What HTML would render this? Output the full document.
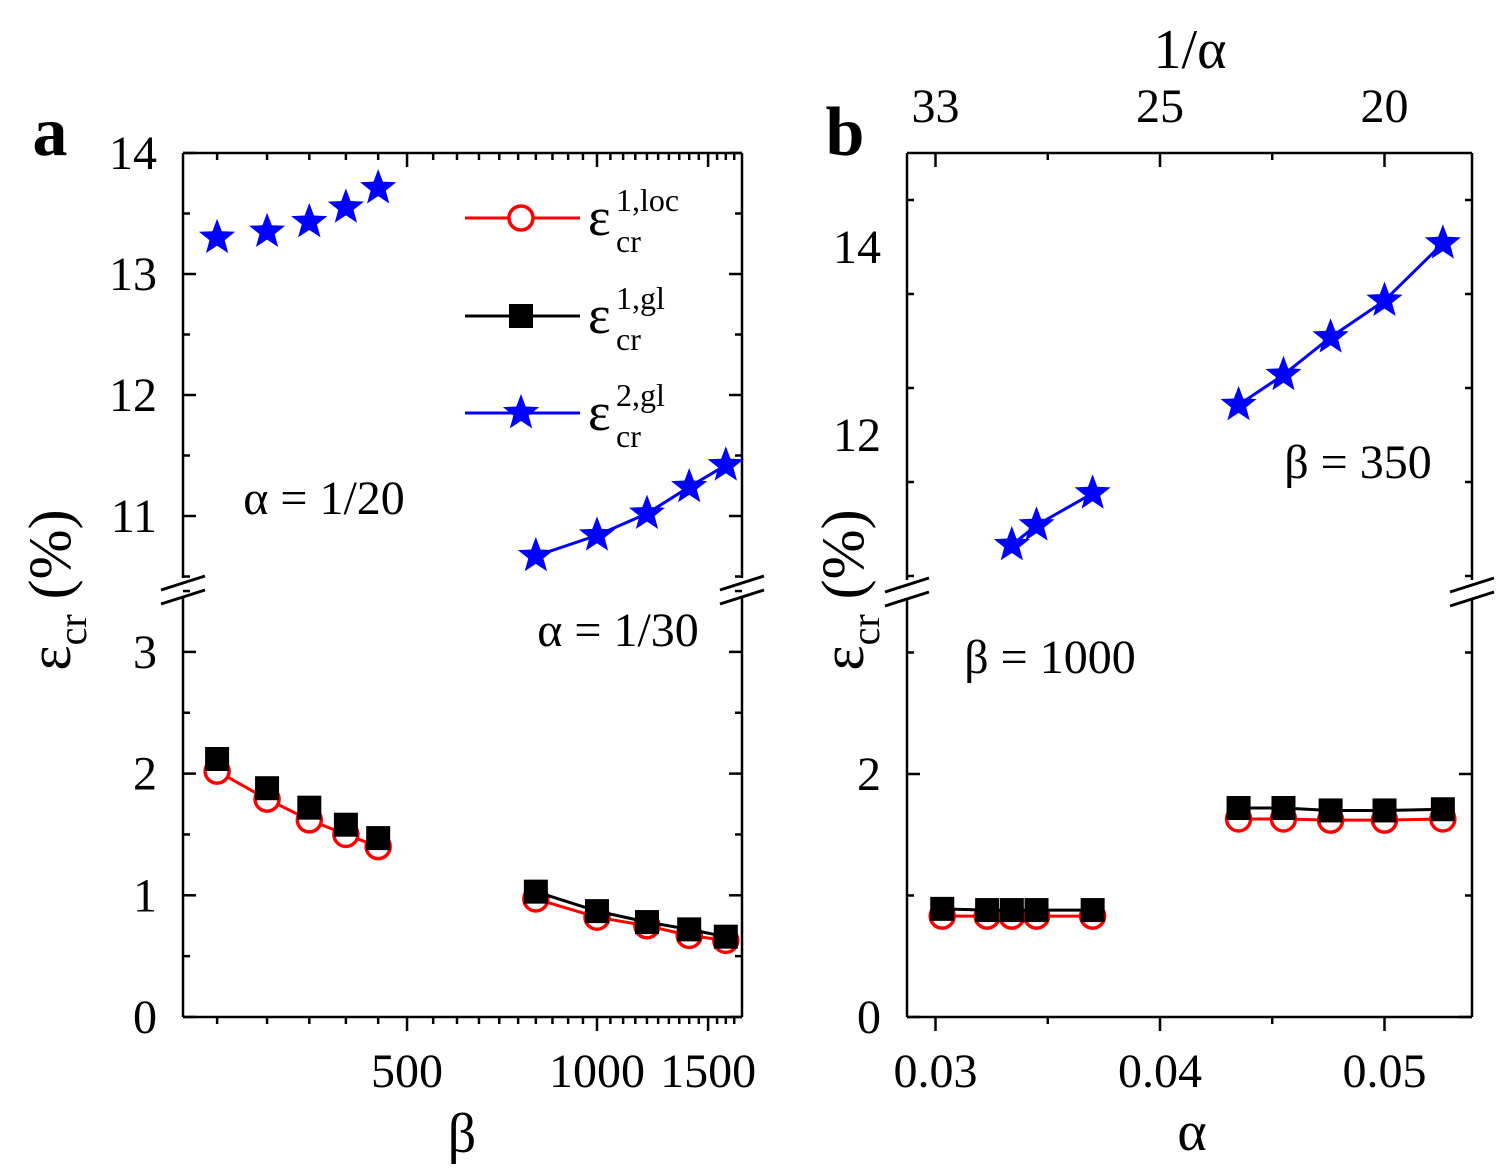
<!DOCTYPE html>
<html><head><meta charset="utf-8"><style>
html,body{margin:0;padding:0;background:#fff;}
svg{display:block;font-family:"Liberation Serif","Times New Roman",serif;}
svg text{font-family:"Liberation Serif","Times New Roman",serif;}
</style></head><body>
<svg id="chart" width="1507" height="1176" viewBox="0 0 1507 1176" xmlns="http://www.w3.org/2000/svg">
<g id="axes"></g><g id="marks"></g><g id="labels"></g>
</svg>
<script>
// ---- Panel a data ----
const betaA1 = [250, 300, 350, 400, 450];
const betaA2 = [800, 1000, 1200, 1400, 1600];
const locA1 = [2.02, 1.79, 1.62, 1.50, 1.40];
const locA2 = [0.97, 0.82, 0.75, 0.67, 0.63];
const glA1 = [2.12, 1.88, 1.72, 1.58, 1.47];
const glA2 = [1.03, 0.87, 0.78, 0.72, 0.66];
const gl2A1 = [13.30, 13.35, 13.43, 13.55, 13.71];
const gl2A2 = [10.67, 10.84, 11.02, 11.24, 11.42];
const xTicksA = [500, 1000, 1500];
const yTicksLowA = [0, 1, 2, 3];
const yTicksUpA = [11, 12, 13, 14];
// ---- Panel b data ----
const alphaB1 = [0.0303, 0.0323, 0.0334, 0.0345, 0.0370];
const alphaB2 = [0.0435, 0.0455, 0.0476, 0.0500, 0.0526];
const locB1 = [0.83, 0.83, 0.83, 0.83, 0.83];
const locB2 = [1.63, 1.63, 1.62, 1.62, 1.63];
const glB1 = [0.89, 0.88, 0.88, 0.88, 0.88];
const glB2 = [1.72, 1.72, 1.70, 1.70, 1.71];
const gl2B1 = [10.83, 11.04, 11.38];
const gl2B2 = [12.32, 12.64, 13.04, 13.43, 14.04];
const gl2B1alpha = [0.0334, 0.0345, 0.0370];
const xTicksB = [0.03, 0.04, 0.05];
const topTicksB = [33, 25, 20];
const yTicksLowB = [0, 2];
const yTicksUpB = [12, 14];

const NS = "http://www.w3.org/2000/svg";
const axes = document.getElementById('axes'), marks = document.getElementById('marks'), labels = document.getElementById('labels');
function el(tag, attrs, parent, name, inter) {
  const e = document.createElementNS(NS, tag);
  for (const k in attrs) e.setAttribute(k, attrs[k]);
  
  
  parent.appendChild(e); return e;
}
function txt(x, y, s, size, name, anchor, extra) {
  const t = el('text', Object.assign({x: x, y: y, 'font-size': size, 'text-anchor': anchor || 'middle', fill: '#000'}, extra || {}), labels, name, false);
  t.textContent = s; return t;
}
const A = {l: 183, r: 742, t: 153, b: 1017};
const xA = v => 597 + 631 * Math.log10(v / 1000);
const yAlow = v => 1017 - v * 121.7;
const yAup = v => 516 - (v - 11) * 121;
const B = {l: 907, r: 1472, t: 153, b: 1017};
const xB = v => 1160 + (v - 0.04) * 22450;
const yBlow = v => 1017 - v * 121.5;
const yBup = v => 435 - (v - 12) * 94;

function line(x1, y1, x2, y2, name, w, col) {
  return el('line', {x1, y1, x2, y2, stroke: col || '#000', 'stroke-width': w || 2.5}, axes, name, false);
}
function frame(P, breakY, pre) {
  line(P.l, P.t, P.r, P.t, pre + '-top-axis');
  line(P.l, P.b, P.r, P.b, pre + '-bottom-axis');
  line(P.l, P.t, P.l, breakY - 10, pre + '-left-axis-upper');
  line(P.l, breakY + 10, P.l, P.b, pre + '-left-axis-lower');
  line(P.r, P.t, P.r, breakY - 10, pre + '-right-axis-upper');
  line(P.r, breakY + 10, P.r, P.b, pre + '-right-axis-lower');
  [P.l, P.r].forEach((x, i) => {
    line(x - 22, breakY + 2, x + 22, breakY - 12, pre + '-break-mark', 3);
    line(x - 22, breakY + 16, x + 22, breakY + 2, pre + '-break-mark', 3);
  });
}
function yTicks(P, vals, f, step, lo, hi, pre) {
  for (let v = lo; v <= hi + 1e-9; v += step / 2) {
    const y = f(v); if (y < P.t - 1 || y > P.b + 1) continue;
    const major = Math.abs(v / step - Math.round(v / step)) < 1e-6;
    const len = major ? 13 : 7;
    line(P.l, y, P.l + len, y, pre + '-y-tick', 2.5);
    line(P.r, y, P.r - len, y, pre + '-y-tick', 2.5);
  }
  vals.forEach(v => txt(P.l - 26, f(v) + 16, String(v), 48, pre + '-y-tick-label', 'end'));
}
frame(A, 588, 'panel-a');
yTicks(A, yTicksLowA, yAlow, 1, 0, 3.5, 'panel-a-lower');
yTicks(A, yTicksUpA, yAup, 1, 10.5, 14, 'panel-a-upper');
for (let v = 250; v <= 1650; v += 50) {
  const x = xA(v); if (x < A.l || x > A.r) continue;
  const major = xTicksA.includes(v);
  line(x, A.b, x, A.b + (major ? 14 : 7), 'panel-a-x-tick', 2.5);
  line(x, A.t, x, A.t + (major ? 14 : 7), 'panel-a-top-tick', 2.5);
}
xTicksA.forEach(v => txt(xA(v), 1087, String(v), 48, 'panel-a-x-tick-label'));
frame(B, 590, 'panel-b');
yTicks(B, yTicksLowB, yBlow, 2, 0, 3.4, 'panel-b-lower');
yTicks(B, yTicksUpB, yBup, 2, 10.5, 15, 'panel-b-upper');
for (let v = 0.03; v <= 0.0526; v += 0.005) {
  const x = xB(v); const major = Math.abs(v * 100 - Math.round(v * 100)) < 1e-6;
  line(x, B.b, x, B.b + (major ? 14 : 7), 'panel-b-x-tick', 2.5);
  line(x, B.t, x, B.t + (major ? 14 : 7), 'panel-b-top-tick', 2.5);
}
xTicksB.forEach(v => txt(xB(v), 1087, String(v), 48, 'panel-b-x-tick-label'));
topTicksB.forEach((v, i) => txt(xB(xTicksB[i]), 122, String(v), 48, 'panel-b-top-tick-label'));

function path(xs, ys, fx, fy, col, name) {
  const d = xs.map((x, i) => (i ? 'L' : 'M') + fx(x) + ' ' + fy(ys[i])).join(' ');
  el('path', {d, fill: 'none', stroke: col, 'stroke-width': 3}, marks, name, false);
}
function starPts(cx, cy, R) {
  const r = R * 0.42, p = [];
  for (let i = 0; i < 10; i++) {
    const a = -Math.PI / 2 + i * Math.PI / 5, rr = i % 2 ? r : R;
    p.push((cx + rr * Math.cos(a)).toFixed(1) + ',' + (cy + rr * Math.sin(a)).toFixed(1));
  }
  return p.join(' ');
}
function series(xs, ys, fx, fy, kind, name, noLine) {
  const col = kind === 'circle' ? '#f00' : kind === 'square' ? '#000' : '#0000ff';
  if (!noLine) path(xs, ys, fx, fy, col, name + '-line');
  xs.forEach((x, i) => {
    const cx = fx(x), cy = fy(ys[i]);
    if (kind === 'circle') el('circle', {cx, cy, r: 12, fill: '#fff', stroke: '#f00', 'stroke-width': 3.5}, marks, name + '-point', false);
    else if (kind === 'square') el('rect', {x: cx - 12, y: cy - 12, width: 24, height: 24, fill: '#000'}, marks, name + '-point', false);
    else el('polygon', {points: starPts(cx, cy, 19), fill: '#0000ff'}, marks, name + '-point', false);
  });
}
series(betaA1, locA1, xA, yAlow, 'circle', 'a-eps1loc-g1');
series(betaA2, locA2, xA, yAlow, 'circle', 'a-eps1loc-g2');
series(betaA1, glA1, xA, yAlow, 'square', 'a-eps1gl-g1', true);
series(betaA2, glA2, xA, yAlow, 'square', 'a-eps1gl-g2');
series(betaA1, gl2A1, xA, yAup, 'star', 'a-eps2gl-g1', true);
series(betaA2, gl2A2, xA, yAup, 'star', 'a-eps2gl-g2');
series(alphaB1, locB1, xB, yBlow, 'circle', 'b-eps1loc-g1');
series(alphaB2, locB2, xB, yBlow, 'circle', 'b-eps1loc-g2');
series(alphaB1, glB1, xB, yBlow, 'square', 'b-eps1gl-g1');
series(alphaB2, glB2, xB, yBlow, 'square', 'b-eps1gl-g2');
series(gl2B1alpha, gl2B1, xB, yBup, 'star', 'b-eps2gl-g1');
series(alphaB2, gl2B2, xB, yBup, 'star', 'b-eps2gl-g2');

const legY = [218, 316, 413], legSup = ['1,loc', '1,gl', '2,gl'];
legY.forEach((y, i) => {
  const col = ['#f00', '#000', '#0000ff'][i];
  el('line', {x1: 465, y1: y, x2: 580, y2: y, stroke: col, 'stroke-width': 3}, marks, 'legend-line', false);
  if (i === 0) el('circle', {cx: 521, cy: y, r: 12, fill: '#fff', stroke: '#f00', 'stroke-width': 3.5}, marks, 'legend-marker', false);
  else if (i === 1) el('rect', {x: 509, y: y - 12, width: 24, height: 24, fill: '#000'}, marks, 'legend-marker', false);
  else el('polygon', {points: starPts(521, y, 19), fill: '#0000ff'}, marks, 'legend-marker', false);
  txt(588, y + 17, 'ε', 54, 'legend-symbol', 'start');
  txt(616, y - 7, legSup[i], 32, 'legend-superscript', 'start');
  txt(616, y + 34, 'cr', 32, 'legend-subscript', 'start');
});

txt(50, 155, 'a', 70, 'panel-a-label', 'middle', {'font-weight': 'bold'});
txt(845, 155, 'b', 70, 'panel-b-label', 'middle', {'font-weight': 'bold'});
txt(462, 1152, 'β', 56, 'panel-a-x-axis-title');
txt(1192, 1150, 'α', 56, 'panel-b-x-axis-title');
txt(1190, 68, '1/α', 56, 'panel-b-top-axis-title');
txt(324, 514, 'α = 1/20', 48, 'annotation-alpha-1-20');
txt(618, 646, 'α = 1/30', 48, 'annotation-alpha-1-30');
txt(1358, 478, 'β = 350', 48, 'annotation-beta-350');
txt(1050, 673, 'β = 1000', 48, 'annotation-beta-1000');
[[70, 'panel-a-y-axis-title'], [863, 'panel-b-y-axis-title']].forEach(([x, n]) => {
  const t = el('text', {x: x, y: 590, 'font-size': 60, 'text-anchor': 'middle', transform: 'rotate(-90 ' + x + ' 590)'}, labels, n, false);
  t.innerHTML = 'ε<tspan font-size="40" dy="16">cr</tspan><tspan dy="-16"> (%)</tspan>';
});
</script>
</body></html>
